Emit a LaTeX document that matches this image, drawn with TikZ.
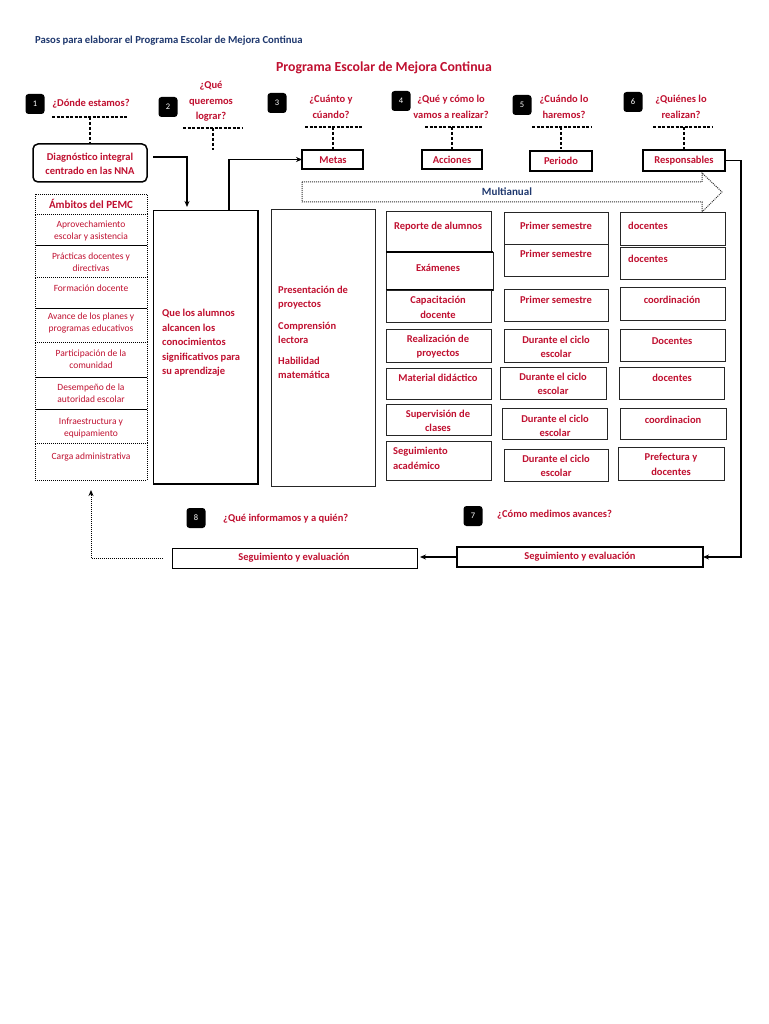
\documentclass[tikz,border=0pt]{standalone}
\usepackage{fontspec}
\setmainfont{Carlito}
\usetikzlibrary{arrows.meta}
\definecolor{pred}{RGB}{192,16,48}
\definecolor{pnavy}{RGB}{31,56,110}
\newcommand\mybox[6][]{\node[frame,#1,minimum width={(#4-#2)*1pt},minimum height={(#5-#3)*1pt}] (#6) at ({(#2+#4)/2},{(#3+#5)/2}) {};}
\begin{document}
\begin{tikzpicture}[x=1pt,y=-1pt,
  badge/.style={fill=black,rounded corners=3pt,minimum width=19pt,minimum height=20pt,inner sep=0pt,text=white,font=\fontsize{8.5}{10}\selectfont},
  qt/.style={text=pred,font=\bfseries\fontsize{10.5}{15.5}\selectfont,align=center,inner sep=0pt},
  bt/.style={text=pred,font=\bfseries\fontsize{10.5}{14.5}\selectfont,align=center,inner sep=0pt},
  lt/.style={text=pred,font=\fontsize{9.5}{12}\selectfont,align=center,inner sep=0pt},
  frame/.style={draw,inner sep=0pt,outer sep=0pt,line width=1pt},
  amb/.style={frame,densely dotted,line width=0.9pt},
  hd/.style={line width=1.3pt,dash pattern=on 3pt off 1.5pt},
  vd/.style={line width=2pt,dash pattern=on 3pt off 2pt},
  conn/.style={line width=1.3pt,-{Stealth[length=6pt,width=5pt]}},
  dconn/.style={line width=1pt,densely dotted,-{Stealth[length=6pt,width=5pt]}}]
\useasboundingbox (0,0) rectangle (768,1024);
\fill[white] (0,0) rectangle (768,1024);

% header and title
\node[anchor=west,inner sep=0pt,text=pnavy,font=\bfseries\fontsize{10.7}{12}\selectfont] (hdr) at (35,41) {Pasos para elaborar el Programa Escolar de Mejora Continua};
\node[inner sep=0pt,text=pred,font=\bfseries\fontsize{13.8}{15}\selectfont] (title) at (384,68) {Programa Escolar de Mejora Continua};

% badges
\node[badge] (b1) at (35,104) {1};
\node[badge] (b2) at (168,107) {2};
\node[badge] (b3) at (277,103) {3};
\node[badge] (b4) at (401,101) {4};
\node[badge] (b5) at (522,105) {5};
\node[badge] (b6) at (633,102) {6};
\node[badge] (b7) at (473,516) {7};
\node[badge] (b8) at (196,518) {8};

% questions
\node[qt] (q1) at (91,104) {¿Dónde estamos?};
\node[qt] (q2) at (211,101.5) {¿Qué\\queremos\\lograr?};
\node[qt] (q3) at (331,107) {¿Cuánto y\\cúando?};
\node[qt] (q4) at (451,107) {¿Qué y cómo lo\\vamos a realizar?};
\node[qt] (q5) at (564,107) {¿Cuándo lo\\haremos?};
\node[qt] (q6) at (681,107) {¿Quiénes lo\\realizan?};
\node[qt,anchor=west] (q8) at (223,519) {¿Qué informamos y a quién?};
\node[qt,anchor=west] (q7) at (497,515) {¿Cómo medimos avances?};

% top boxes
\mybox[rounded corners=5pt,line width=1.5pt]{33}{144}{147}{182}{diag}
\node[bt] (diagt) at (90,164) {Diagnóstico integral\\centrado en las NNA};
\mybox[line width=1.5pt]{302}{150}{363}{169}{metas}
\node[bt] (metast) at (333,160) {Metas};
\mybox[line width=1.5pt]{422}{150}{482}{169}{acc}
\node[bt] (acct) at (452,160) {Acciones};
\mybox[line width=1.5pt]{530}{151}{592}{171}{per}
\node[bt] (pert) at (561,161) {Periodo};
\mybox[line width=2pt]{643}{150}{725}{171}{resp}
\node[bt] (respt) at (684,161) {Responsables};

% dashed guides
\coordinate (d1a) at (52,117); \coordinate (d1b) at (128,117);
\coordinate (d2a) at (183,128); \coordinate (d2b) at (242,128); \coordinate (d2e) at (213,150);
\coordinate (d3a) at (305,127); \coordinate (d3b) at (363,127);
\coordinate (d4a) at (425,127); \coordinate (d4b) at (482,127);
\coordinate (d5a) at (532,127); \coordinate (d5b) at (592,127);
\coordinate (d6a) at (653,127); \coordinate (d6b) at (712,127);
\draw[hd] (d1a) -- (d1b); \draw[vd] (diag.north |- d1a) -- (diag.north);
\draw[hd] (d2a) -- (d2b); \draw[vd] (d2e |- d2a) -- (d2e);
\draw[hd] (d3a) -- (d3b); \draw[vd] (metas.north |- d3a) -- (metas.north);
\draw[hd] (d4a) -- (d4b); \draw[vd] (acc.north |- d4a) -- (acc.north);
\draw[hd] (d5a) -- (d5b); \draw[vd,shorten >=2pt] (per.north |- d5a) -- (per.north);
\draw[hd] (d6a) -- (d6b); \draw[vd] (resp.north |- d6a) -- (resp.north);

% multianual arrow
\draw[densely dotted,line width=1pt,draw=black!80] (302,182) -- (702,182) -- (702,173) -- (722,192) -- (702,212) -- (702,202) -- (302,202) -- cycle;
\node[inner sep=0pt,text=pnavy,font=\bfseries\fontsize{11}{13}\selectfont] (multi) at (507,192) {Multianual};

% ambitos
\mybox[amb]{35}{194}{147}{214}{a1}
\node[lt,font=\bfseries\fontsize{11}{12}\selectfont] (a1t) at (91,204) {Ámbitos del PEMC};
\mybox[amb]{35}{214}{147}{245}{a2}
\node[lt] (a2t) at (91,231) {Aprovechamiento\\escolar y asistencia};
\mybox[amb]{35}{245}{147}{277}{a3}
\node[lt] (a3t) at (91,262) {Prácticas docentes y\\directivas};
\mybox[amb]{35}{277}{147}{308}{a4}
\node[lt] (a4t) at (91,288) {Formación docente};
\mybox[amb]{35}{308}{147}{342}{a5}
\node[lt] (a5t) at (91,323.5) {Avance de los planes y\\programas educativos};
\mybox[amb]{35}{342}{147}{377}{a6}
\node[lt] (a6t) at (91,359.5) {Participación de la\\comunidad};
\mybox[amb]{35}{377}{147}{409}{a7}
\node[lt] (a7t) at (91,393.5) {Desempeño de la\\autoridad escolar};
\mybox[amb]{35}{409}{147}{443}{a8}
\node[lt] (a8t) at (91,428) {Infraestructura y\\equipamiento};
\mybox[amb]{35}{443}{147}{480}{a9}
\node[lt] (a9t) at (91,457) {Carga administrativa};

% goal and indicators
\mybox{153}{211}{258}{484}{goal}
\draw[line width=2pt] (goal.north east) -- (goal.south east) -- (goal.south west);
\node[bt,align=left,anchor=west] (goalt) at (162,343) {Que los alumnos\\alcancen los\\conocimientos\\significativos para\\su aprendizaje};
\mybox[draw=black!85]{271}{210}{375}{486}{ind}
\node[bt,align=left,anchor=west] (indt) at (278,332.5) {Presentación de\\proyectos\\[7pt]Comprensión\\lectora\\[6pt]Habilidad\\matemática};

% acciones column
\mybox[draw=black!85]{386}{212}{491}{252}{c1}
\node[bt] (c1t) at (438,227) {Reporte de alumnos};
\mybox[draw=black!85]{386}{252}{493}{290}{c2}
\draw[line width=1.8pt] (c2.north west) -- (c2.north east);
\draw[line width=1.8pt] (c2.south west) -- (c2.south east);
\node[bt] (c2t) at (438,268) {Exámenes};
\mybox[draw=black!85]{386}{290}{491}{322}{c3}
\node[bt] (c3t) at (438,307.5) {Capacitación\\docente};
\mybox[draw=black!85]{386}{329}{491}{362}{c4}
\node[bt] (c4t) at (438,346.5) {Realización de\\proyectos};
\mybox[draw=black!85]{386}{368}{491}{399}{c5}
\node[bt] (c5t) at (438,378) {Material didáctico};
\mybox[draw=black!85]{386}{404}{491}{435}{c6}
\node[bt] (c6t) at (438,421) {Supervisión de\\clases};
\mybox[draw=black!85]{386}{441}{491}{480}{c7}
\node[bt,align=left,anchor=west] (c7t) at (393,458.5) {Seguimiento\\académico};

% periodo column
\mybox[draw=black!85]{504}{213}{608}{244}{p1}
\node[bt] (p1t) at (556,226) {Primer semestre};
\mybox[draw=black!85]{504}{244}{608}{276}{p2}
\node[bt] (p2t) at (556,254) {Primer semestre};
\mybox[draw=black!85]{504}{289}{608}{321}{p3}
\node[bt] (p3t) at (556,300) {Primer semestre};
\mybox[draw=black!85]{504}{329}{608}{362}{p4}
\node[bt] (p4t) at (556,347) {Durante el ciclo\\escolar};
\mybox[draw=black!85]{500}{367}{606}{399}{p5}
\node[bt] (p5t) at (553,384) {Durante el ciclo\\escolar};
\mybox[draw=black!85]{502}{408}{607}{439}{p6}
\node[bt] (p6t) at (555,426) {Durante el ciclo\\escolar};
\mybox[draw=black!85]{504}{449}{608}{481}{p7}
\node[bt] (p7t) at (556,466) {Durante el ciclo\\escolar};

% responsables column
\mybox[draw=black!85]{620}{213}{725}{245}{r1}
\node[bt,anchor=west] (r1t) at (628,226) {docentes};
\mybox[draw=black!85]{620}{247}{725}{279}{r2}
\node[bt,anchor=west] (r2t) at (628,259) {docentes};
\mybox[draw=black!85]{620}{287}{725}{320}{r3}
\node[bt] (r3t) at (672,300) {coordinación};
\mybox[draw=black!85]{620}{329}{725}{361}{r4}
\node[bt] (r4t) at (672,341) {Docentes};
\mybox[draw=black!85]{619}{367}{724}{399}{r5}
\node[bt] (r5t) at (672,378) {docentes};
\mybox[draw=black!85]{620}{408}{726}{439}{r6}
\node[bt] (r6t) at (673,420) {coordinacion};
\mybox[draw=black!85]{618}{447}{724}{480}{r7}
\node[bt] (r7t) at (671,464.5) {Prefectura y\\docentes};

% evaluation boxes
\mybox{172}{548}{417}{568}{seg1}
\node[bt] (seg1t) at (294,558) {Seguimiento y evaluación};
\mybox[line width=1.8pt]{457}{547}{703}{567}{seg2}
\node[bt] (seg2t) at (580,557) {Seguimiento y evaluación};

% connectors
\coordinate (c187) at (187,0);
\coordinate (c229) at (229,0);
\draw[conn,shorten >=4pt] ([xshift=6pt,yshift=6pt]diag.east) -| (goal.north -| c187);
\draw[conn] (goal.north -| c229) |- (metas.west);
\draw[conn] (resp.east) -- ++(16,0) |- (seg2.east);
\draw[conn,shorten >=3pt] (seg2.west) -- (seg2.west -| seg1.east);
\draw[dconn] ([xshift=-9pt]seg1.west) -| ([yshift=-10pt]a9.south);
\end{tikzpicture}
\end{document}
